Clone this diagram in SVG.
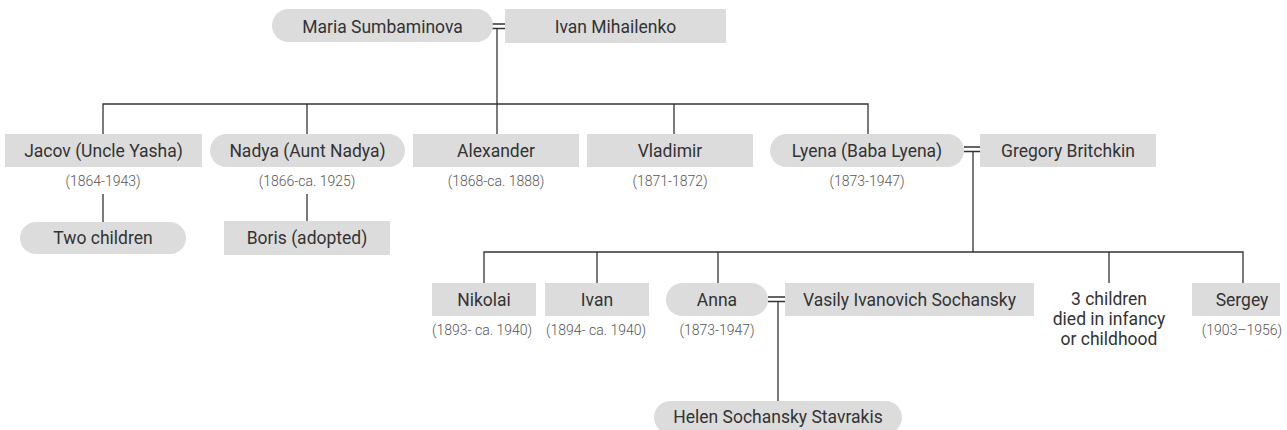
<svg xmlns="http://www.w3.org/2000/svg" width="1287" height="430" viewBox="0 0 1287 430">
<style>
.box{fill:#dcdcdd}
.name{font-family:Roboto,"Liberation Sans",sans-serif;font-size:17.5px;fill:#333;text-anchor:middle}
.date{font-family:Roboto,"Liberation Sans",sans-serif;font-size:14px;fill:#555;text-anchor:middle;font-weight:300}
.ln{stroke:#333;stroke-width:1.3;fill:none}
</style>
<rect width="1287" height="430" fill="#fff"/>
<g id="connectors">
<path class="ln" d="M486 24H505M486 28.5H505M497 28.5V104"/>
<path class="ln" d="M103 134V104H868V134M307 104V134M497 104V134M674 104V134"/>
<path class="ln" d="M103 194V222M307 194V221"/>
<path class="ln" d="M964 147H980M964 151.5H980M973 151.5V252"/>
<path class="ln" d="M484 283V252H1243V283M597 252V283M718 252V283M1109 252V283"/>
<path class="ln" d="M768 297H786M768 301.5H786M778 301.5V401"/>
</g>
<g id="maria"><rect class="box" x="272" y="9" width="221" height="33" rx="16.5"/><text class="name" x="382.5" y="32.5">Maria Sumbaminova</text></g>
<g id="ivanm"><rect class="box" x="505" y="9" width="221" height="34"/><text class="name" x="615.5" y="32.5">Ivan Mihailenko</text></g>
<g id="jacov"><rect class="box" x="5" y="134" width="197" height="33"/><text class="name" x="103.5" y="157">Jacov (Uncle Yasha)</text><text class="date" x="103" y="186">(1864-1943)</text></g>
<g id="nadya"><rect class="box" x="210" y="134" width="195" height="33" rx="16.5"/><text class="name" x="307.5" y="157">Nadya (Aunt Nadya)</text><text class="date" x="307" y="186">(1866-ca. 1925)</text></g>
<g id="alexander"><rect class="box" x="413" y="134" width="166" height="33"/><text class="name" x="496" y="157">Alexander</text><text class="date" x="496" y="186">(1868-ca. 1888)</text></g>
<g id="vladimir"><rect class="box" x="587" y="134" width="166" height="33"/><text class="name" x="670" y="157">Vladimir</text><text class="date" x="670" y="186">(1871-1872)</text></g>
<g id="lyena"><rect class="box" x="770" y="134" width="194" height="33" rx="16.5"/><text class="name" x="867" y="157">Lyena (Baba Lyena)</text><text class="date" x="867" y="186">(1873-1947)</text></g>
<g id="gregory"><rect class="box" x="980" y="134" width="176" height="33"/><text class="name" x="1068" y="157">Gregory Britchkin</text></g>
<g id="twochildren"><rect class="box" x="20" y="222" width="166" height="32" rx="16"/><text class="name" x="103" y="244">Two children</text></g>
<g id="boris"><rect class="box" x="224" y="221" width="166" height="34"/><text class="name" x="307" y="244">Boris (adopted)</text></g>
<g id="nikolai"><rect class="box" x="432" y="283" width="104" height="33"/><text class="name" x="484" y="306">Nikolai</text><text class="date" x="482" y="335">(1893- ca. 1940)</text></g>
<g id="ivan"><rect class="box" x="545" y="283" width="104" height="33"/><text class="name" x="597" y="306">Ivan</text><text class="date" x="596" y="335">(1894- ca. 1940)</text></g>
<g id="anna"><rect class="box" x="666" y="283" width="102" height="33" rx="16.5"/><text class="name" x="717" y="306">Anna</text><text class="date" x="717" y="335">(1873-1947)</text></g>
<g id="vasily"><rect class="box" x="785" y="283" width="249" height="33"/><text class="name" x="909.5" y="306">Vasily Ivanovich Sochansky</text></g>
<g id="threechildren"><text class="name" x="1109" y="305">3 children</text><text class="name" x="1109" y="325">died in infancy</text><text class="name" x="1109" y="344.5">or childhood</text></g>
<g id="sergey"><rect class="box" x="1192" y="283" width="88" height="33"/><text class="name" x="1242" y="306">Sergey</text><text class="date" x="1242" y="335">(1903–1956)</text></g>
<g id="helen"><rect class="box" x="654" y="401" width="248" height="33" rx="16.5"/><text class="name" x="778" y="423">Helen Sochansky Stavrakis</text></g>
</svg>
